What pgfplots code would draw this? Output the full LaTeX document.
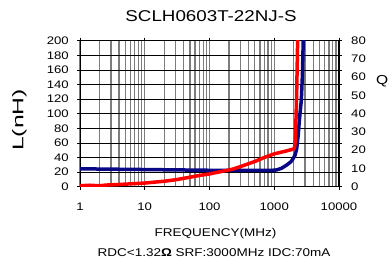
\documentclass[border=0pt]{standalone}
\usepackage{fontspec}
\setmainfont{Liberation Sans}[FakeStretch=1.2]
\newfontfamily\lfont{Liberation Sans}[FakeStretch=1.6]
\usepackage{pgfplots}
\pgfplotsset{compat=1.18}
\definecolor{navyL}{RGB}{8,8,135}
\definecolor{redQ}{RGB}{255,0,0}
\definecolor{gridgray}{RGB}{125,125,125}
\begin{document}
\begin{tikzpicture}
\path[use as bounding box] (0bp,0bp) rectangle (392bp,264bp);
\begin{axis}[at={(80bp,77.3bp)}, anchor=south west, scale only axis,
  width=259bp, height=146bp,
  xmode=log, xmin=1, xmax=10000, ymin=0, ymax=200,
  xtick={1,10,100,1000,10000}, xticklabels={1,10,100,1000,10000},
  ytick={0,20,...,200},
  /pgf/number format/assume math mode=true,
  tick label style={font=\fontsize{11}{13}\selectfont},
  xticklabel style={anchor=center, inner sep=0pt, yshift=-17.5bp},
  yticklabel style={anchor=east, inner sep=0pt, xshift=-8bp},
  tick align=outside, major tick length=3bp, minor tick length=0pt,
  tick style={black, line width=0.7bp},
  xmajorgrids, xminorgrids, ymajorgrids,
  major x grid style={draw=gridgray, line width=1.3bp},
  minor x grid style={draw=gridgray, line width=1.3bp},
  major y grid style={draw=black, line width=0.7bp},
  axis line style={black, line width=0.8bp},
  clip=true,
]
\addplot[navyL, line width=3.5bp, line join=round, no marks] coordinates {
(1,24.5) (2,24.2) (5,23.8) (10,23.5) (20,23.2) (50,22.8) (100,22.5) (200,22.3)
(500,22.2) (800,22.3) (1000,22.6) (1100,23.1) (1300,25.3) (1560,29.7) (1800,34)
(1970,38.8) (2100,43.5) (2222,52) (2340,70) (2450,92) (2615,118) (2700,145)
(2740,162) (2810,205)
};
\end{axis}
\begin{axis}[at={(80bp,77.3bp)}, anchor=south west, scale only axis,
  width=259bp, height=146bp,
  xmode=log, xmin=1, xmax=10000, ymin=0, ymax=80,
  axis x line=none, axis y line*=right,
  ytick={0,10,...,80},
  /pgf/number format/assume math mode=true,
  tick label style={font=\fontsize{11}{13}\selectfont},
  yticklabel style={anchor=west, inner sep=0pt, xshift=12bp},
  major tick length=0pt, minor tick length=0pt,
  axis line style={-, black, line width=1.6bp},
  clip=true,
]
\addplot[redQ, line width=3.5bp, line join=round, no marks] coordinates {
(1,0.5) (1.4,0.8) (2,0.5) (2.5,0.9) (3,1.0) (5,1.4) (10,2.0) (20,3.0) (30,3.8)
(50,5.2) (71,6.2) (100,7.0) (183,8.9) (233,9.7) (300,11) (500,13.8) (700,16)
(1000,18) (1500,19.5) (1970,20.6) (2060,21.5) (2120,26) (2170,38) (2222,52)
(2302,82)
};
\end{axis}
\node[font=\fontsize{15.7}{18}\selectfont] at (211bp,248bp) {SCLH0603T-22NJ-S};
\node[font=\fontsize{11.3}{13}\selectfont] at (215.5bp,30bp) {FREQUENCY(MHz)};
\node[font=\fontsize{11.3}{13}\selectfont] at (214bp,11bp) {RDC<1.32\textbf{Ω} SRF:3000MHz IDC:70mA};
\node[rotate=90, font=\lfont\fontsize{15.5}{18}\selectfont] at (19.5bp,144bp) {L(nH)};
\node[anchor=west, inner sep=0pt, font=\fontsize{13}{16}\selectfont] at (376bp,182.3bp) {Q};
\end{tikzpicture}
\end{document}
